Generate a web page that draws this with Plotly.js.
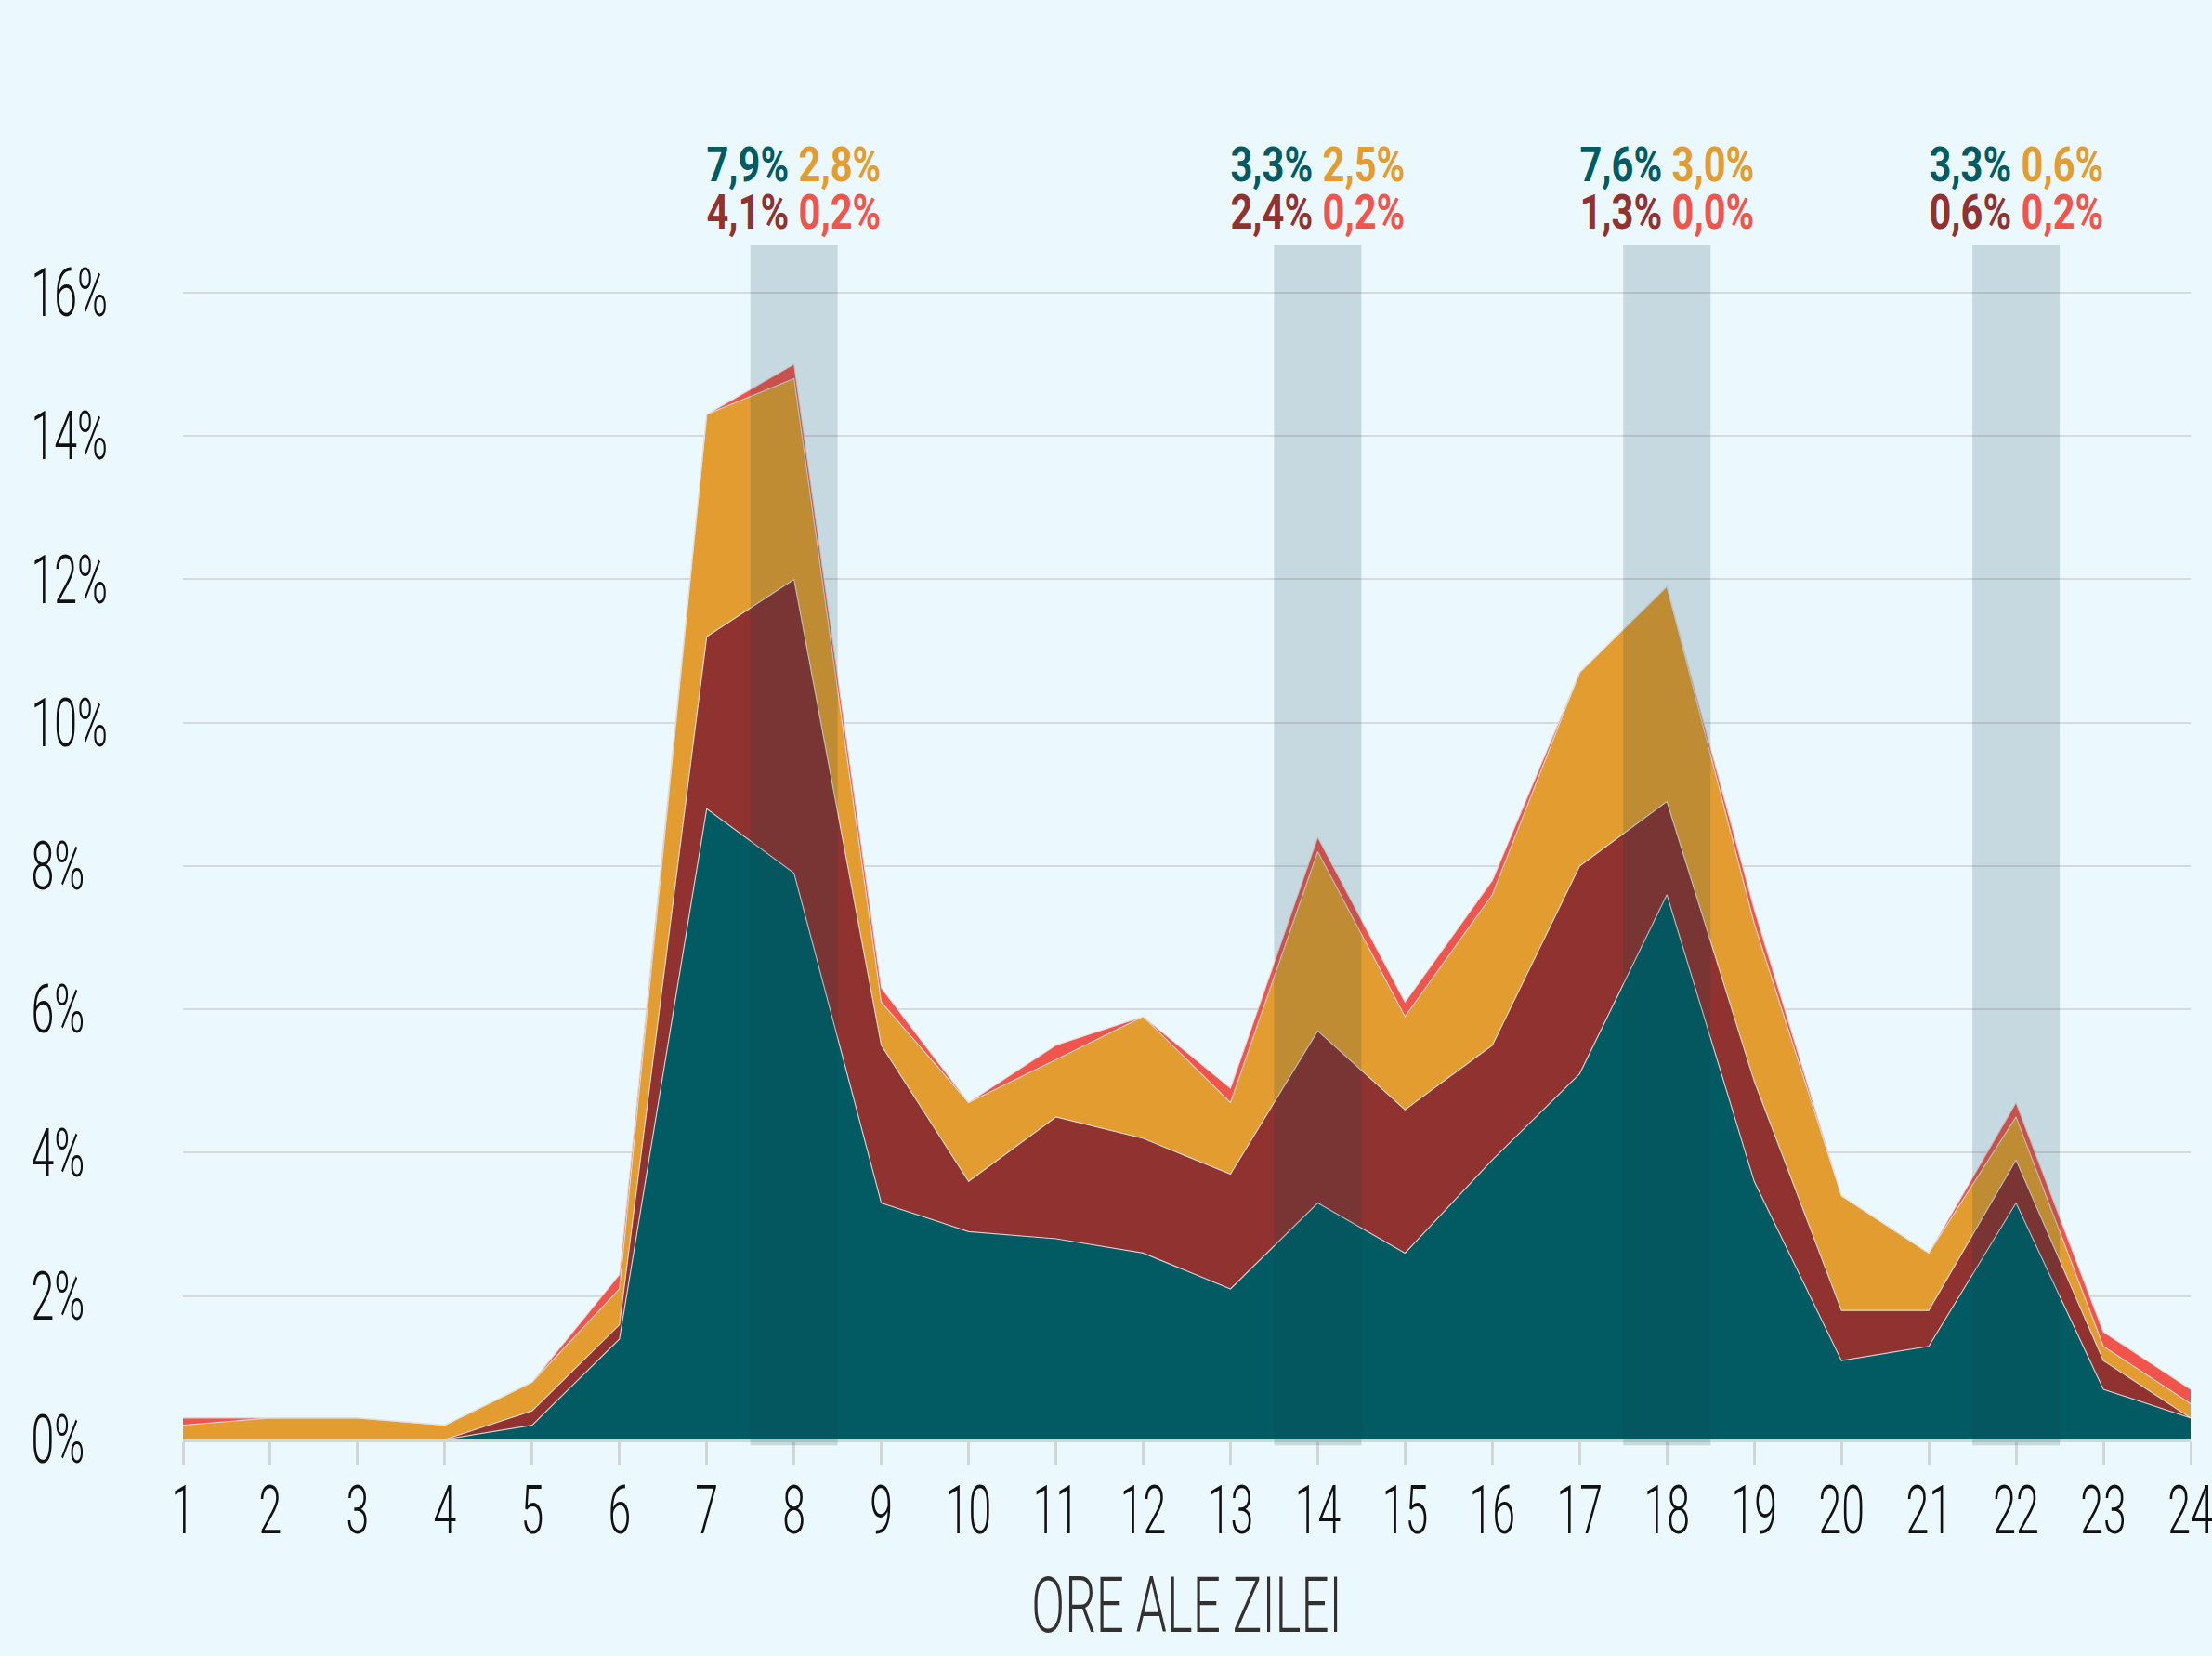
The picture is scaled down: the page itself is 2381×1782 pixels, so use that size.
<!DOCTYPE html>
<html>
<head>
<meta charset="utf-8">
<script src="https://cdn.plot.ly/plotly-3.0.1.min.js"></script>
<style>
  html, body { margin: 0; padding: 0; background: #EBF8FE; overflow: hidden; }
  #chart { width: 2381px; height: 1782px; }
</style>
</head>
<body>
<div id="chart"></div>
<script>
// ---- Data (percent of trips per hour of day) ----
const hours = [1,2,3,4,5,6,7,8,9,10,11,12,13,14,15,16,17,18,19,20,21,22,23,24];
const tealSeries    = [0, 0, 0, 0, 0.2, 1.4, 8.8, 7.9, 3.3, 2.9, 2.8, 2.6, 2.1, 3.3, 2.6, 3.9, 5.1, 7.6, 3.6, 1.1, 1.3, 3.3, 0.7, 0.3];
const darkRedSeries = [0, 0, 0, 0, 0.2, 0.2, 2.4, 4.1, 2.2, 0.7, 1.7, 1.6, 1.6, 2.4, 2.0, 1.6, 2.9, 1.3, 1.4, 0.7, 0.5, 0.6, 0.4, 0];
const orangeSeries  = [0.2, 0.3, 0.3, 0.2, 0.4, 0.5, 3.1, 2.8, 0.6, 1.1, 0.8, 1.7, 1.0, 2.5, 1.3, 2.1, 2.7, 3.0, 2.2, 1.6, 0.8, 0.6, 0.2, 0.2];
const redSeries     = [0.1, 0, 0, 0, 0, 0.2, 0, 0.2, 0.2, 0, 0.2, 0, 0.2, 0.2, 0.2, 0.2, 0, 0, 0.2, 0, 0, 0.2, 0.2, 0.2];
const highlightHours = [8, 14, 18, 22];
const yTickVals   = [0, 2, 4, 6, 8, 10, 12, 14, 16];
const yTickLabels = ['0%', '2%', '4%', '6%', '8%', '10%', '12%', '14%', '16%'];
const xTitle = 'ORE ALE ZILEI';

const C_TEAL = '#025B63', C_DARKRED = '#8F3230', C_ORANGE = '#E29C30', C_RED = '#F0544C';
const BG = '#EBF8FE';
const FONT = 'Roboto, "Liberation Sans", "DejaVu Sans", sans-serif';

function mk(y, color, name) {
  return {
    x: hours, y: y, name: name, type: 'scatter', mode: 'lines',
    stackgroup: 'one', fillcolor: color,
    line: { color: 'rgba(225,225,225,0.85)', width: 1.2, shape: 'linear' },
    hoverinfo: 'x+y'
  };
}
const traces = [
  mk(tealSeries, C_TEAL, 'teal'),
  mk(darkRedSeries, C_DARKRED, 'darkred'),
  mk(orangeSeries, C_ORANGE, 'orange'),
  mk(redSeries, C_RED, 'red')
];

function fmt(v) { return v.toFixed(1).replace('.', ',') + '%'; }

const shapes = highlightHours.map(h => ({
  type: 'rect', xref: 'x', yref: 'paper', layer: 'above',
  x0: h - 0.5, x1: h + 0.5, y0: -0.005, y1: 1.038,
  fillcolor: 'rgba(15,65,75,0.17)', line: { width: 0 }
}));

const annotations = [];
highlightHours.forEach(h => {
  const i = hours.indexOf(h);
  annotations.push({
    xref: 'x', yref: 'paper', x: h, y: 1.1075, xanchor: 'center', yanchor: 'middle',
    showarrow: false,
    font: { family: FONT, size: 52, weight: 700 },
    text: '<span style="color:' + C_TEAL + '">' + fmt(tealSeries[i]) + '</span> ' +
          '<span style="color:' + C_ORANGE + '">' + fmt(orangeSeries[i]) + '</span>'
  });
  annotations.push({
    xref: 'x', yref: 'paper', x: h, y: 1.0663, xanchor: 'center', yanchor: 'middle',
    showarrow: false,
    font: { family: FONT, size: 52, weight: 700 },
    text: '<span style="color:' + C_DARKRED + '">' + fmt(darkRedSeries[i]) + '</span> ' +
          '<span style="color:' + C_RED + '">' + fmt(redSeries[i]) + '</span>'
  });
});

const layout = {
  width: 2381, height: 1782,
  margin: { l: 197, r: 23, t: 311, b: 233, pad: 0 },
  paper_bgcolor: BG, plot_bgcolor: BG,
  showlegend: false,
  xaxis: {
    range: [1, 24], tickmode: 'array', tickvals: hours, ticktext: hours.map(String),
    showgrid: false, zeroline: false, automargin: false,
    showline: true, linecolor: '#D3D6D8', linewidth: 3,
    ticks: 'outside', ticklen: 24, tickwidth: 3, tickcolor: '#D3D6D8',
    tickangle: 0, ticklabeloverflow: 'allow', ticklabelstandoff: -12,
    tickfont: { family: FONT, size: 72, weight: 300, color: '#111111' },
    title: { text: xTitle, font: { family: FONT, size: 84, weight: 300, color: '#333030' }, standoff: 30 }
  },
  yaxis: {
    range: [0, 16.05], tickmode: 'array', tickvals: yTickVals, ticktext: yTickLabels,
    showgrid: true, gridcolor: '#D6DADC', gridwidth: 2,
    zeroline: false, showline: false, ticks: '', automargin: false,
    ticklabelstandoff: 80, ticklabeloverflow: 'allow',
    tickfont: { family: FONT, size: 72, weight: 300, color: '#111111' }
  },
  shapes: shapes,
  annotations: annotations
};

// horizontally condense text around its anchor (the reference uses a condensed typeface)
function squeeze(selector, sx, alignLeft) {
  const nodes = Array.from(document.querySelectorAll(selector));
  let shifts = nodes.map(() => 0);
  if (alignLeft) {
    const lefts = nodes.map(t => {
      const x = parseFloat(t.getAttribute('x')) || 0;
      return x - t.getBBox().width * sx;   // text-anchor: end
    });
    const minLeft = Math.min.apply(null, lefts);
    shifts = lefts.map(l => minLeft - l);
  }
  nodes.forEach((t, k) => {
    const x = parseFloat(t.getAttribute('x')) || 0;
    const tr = t.getAttribute('transform') || '';
    t.setAttribute('transform', tr + ' translate(' + shifts[k] + ',0) translate(' + x + ',0) scale(' + sx + ',1) translate(' + (-x) + ',0)');
  });
}

Plotly.newPlot('chart', traces, layout, { displayModeBar: false, staticPlot: true }).then(() => {
  squeeze('#chart .xtick text', 0.62, false);
  squeeze('#chart .ytick text', 0.62, true);
  squeeze('#chart .g-xtitle text', 0.63, false);
  squeeze('#chart .annotation-text', 0.8, false);
});
</script>
</body>
</html>
